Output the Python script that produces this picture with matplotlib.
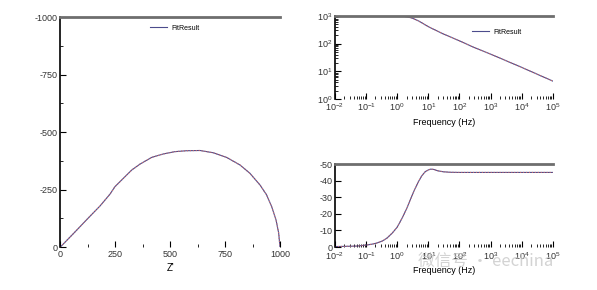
import numpy as np
import matplotlib
matplotlib.use('Agg')
import matplotlib.pyplot as plt
from matplotlib.ticker import MultipleLocator, LogLocator, NullFormatter

plt.rcParams['font.family'] = ['Liberation Sans', 'DejaVu Sans']
plt.rcParams['mathtext.fontset'] = 'custom'
plt.rcParams['mathtext.rm'] = 'Liberation Sans'
plt.rcParams['axes.unicode_minus'] = False

# Nyquist data (Z', Z'')
z_re = [0, 59, 127, 181, 226, 249, 287, 325, 363, 416, 469, 522, 575, 636,
        697, 757, 818, 863, 909, 939, 962, 982, 994, 1000]
z_im = [0, -58, -126, -179, -230, -263, -299, -335, -361, -390, -405, -415, -419, -420,
        -410, -390, -357, -321, -270, -227, -176, -118, -61, 0]

# Bode magnitude
freq = [0.01, 0.03, 0.1, 0.3, 1, 1.5, 2, 3, 5, 7, 10, 20, 30, 100, 300, 1000, 10000, 100000]
zmod = [1000, 1000, 1000, 1000, 995, 975, 935, 840, 650, 520, 410, 280, 225, 126, 72, 41.7, 13.8, 4.4]

# Bode phase
pfreq = [0.01, 0.05, 0.1, 0.15, 0.22, 0.33, 0.47, 0.7, 1.0, 1.4, 2.0, 2.7, 3.7, 5, 6.2,
         8, 10, 12, 15, 20, 30, 50, 100, 1000, 10000, 100000]
phase = [-0.3, -0.6, -1.2, -1.7, -2.4, -3.6, -5.4, -8.5, -12, -17, -23, -29, -35, -40, -43,
         -45.5, -46.5, -47, -46.8, -46, -45.4, -45.1, -45, -45, -45, -45]

fit_col = '#4c4c8c'
dat_col = '#c86a6a'

fig = plt.figure(figsize=(5.97, 2.90), dpi=100)

def style(ax):
    ax.spines['right'].set_visible(False)
    ax.spines['bottom'].set_visible(False)
    ax.spines['top'].set_color('#6e6e6e')
    ax.spines['top'].set_linewidth(2)
    ax.spines['left'].set_linewidth(1.2)
    ax.tick_params(which='both', direction='in', labelsize=6.5, pad=2, top=False, right=False,
                   labelcolor='#333333')
    ax.tick_params(which='major', length=4, width=0.8)
    ax.tick_params(which='minor', length=2.5, width=0.6)

# Nyquist
ax1 = fig.add_axes([0.101, 0.148, 0.368, 0.793])
ax1.plot(z_re, z_im, color=fit_col, lw=0.8, label='FitResult')
ax1.plot(z_re, z_im, color=dat_col, lw=0.8, ls=':')
ax1.set_xlim(0, 1000)
ax1.set_ylim(0, -1000)
ax1.xaxis.set_major_locator(MultipleLocator(250))
ax1.xaxis.set_minor_locator(MultipleLocator(125))
ax1.yaxis.set_major_locator(MultipleLocator(250))
ax1.yaxis.set_minor_locator(MultipleLocator(125))
style(ax1)
ax1.set_xlabel("Z'", fontsize=7, labelpad=3)
ax1.legend(loc='upper left', bbox_to_anchor=(0.38, 0.995), frameon=False, fontsize=5,
           handlelength=2.5, handletextpad=0.6)

# Bode magnitude
ax2 = fig.add_axes([0.561, 0.659, 0.365, 0.286])
ax2.plot(freq, zmod, color=fit_col, lw=0.8, label='FitResult')
ax2.plot(freq, zmod, color=dat_col, lw=0.8, ls=':')
ax2.set_xscale('log')
ax2.set_yscale('log')
ax2.set_xlim(1e-2, 1e5)
ax2.set_ylim(1, 1000)
for a in (ax2.xaxis, ax2.yaxis):
    a.set_major_locator(LogLocator(base=10, numticks=10))
    a.set_minor_locator(LogLocator(base=10, subs=np.arange(2, 10), numticks=10))
    a.set_minor_formatter(NullFormatter())
style(ax2)
ax2.set_xlabel('Frequency (Hz)', fontsize=6.5, labelpad=3)
ax2.legend(loc='upper left', bbox_to_anchor=(0.6, 0.92), frameon=False, fontsize=5,
           handlelength=2.5, handletextpad=0.6)

# Bode phase
ax3 = fig.add_axes([0.561, 0.148, 0.365, 0.286])
ax3.plot(pfreq, phase, color=fit_col, lw=0.8)
ax3.plot(pfreq, phase, color=dat_col, lw=0.8, ls=':')
ax3.set_xscale('log')
ax3.set_xlim(1e-2, 1e5)
ax3.set_ylim(0, -50)
ax3.yaxis.set_major_locator(MultipleLocator(10))
ax3.xaxis.set_major_locator(LogLocator(base=10, numticks=10))
ax3.xaxis.set_minor_locator(LogLocator(base=10, subs=np.arange(2, 10), numticks=10))
ax3.xaxis.set_minor_formatter(NullFormatter())
style(ax3)
ax3.set_xlabel('Frequency (Hz)', fontsize=6.5, labelpad=3)

# watermark
fig.text(0.70, 0.10, '微信号 · eechina', fontsize=12, color='#c8c8c8', alpha=0.8,
         family=['Noto Sans CJK SC', 'DejaVu Sans'], ha='left', va='center')

fig.savefig('out.png', dpi=100)
